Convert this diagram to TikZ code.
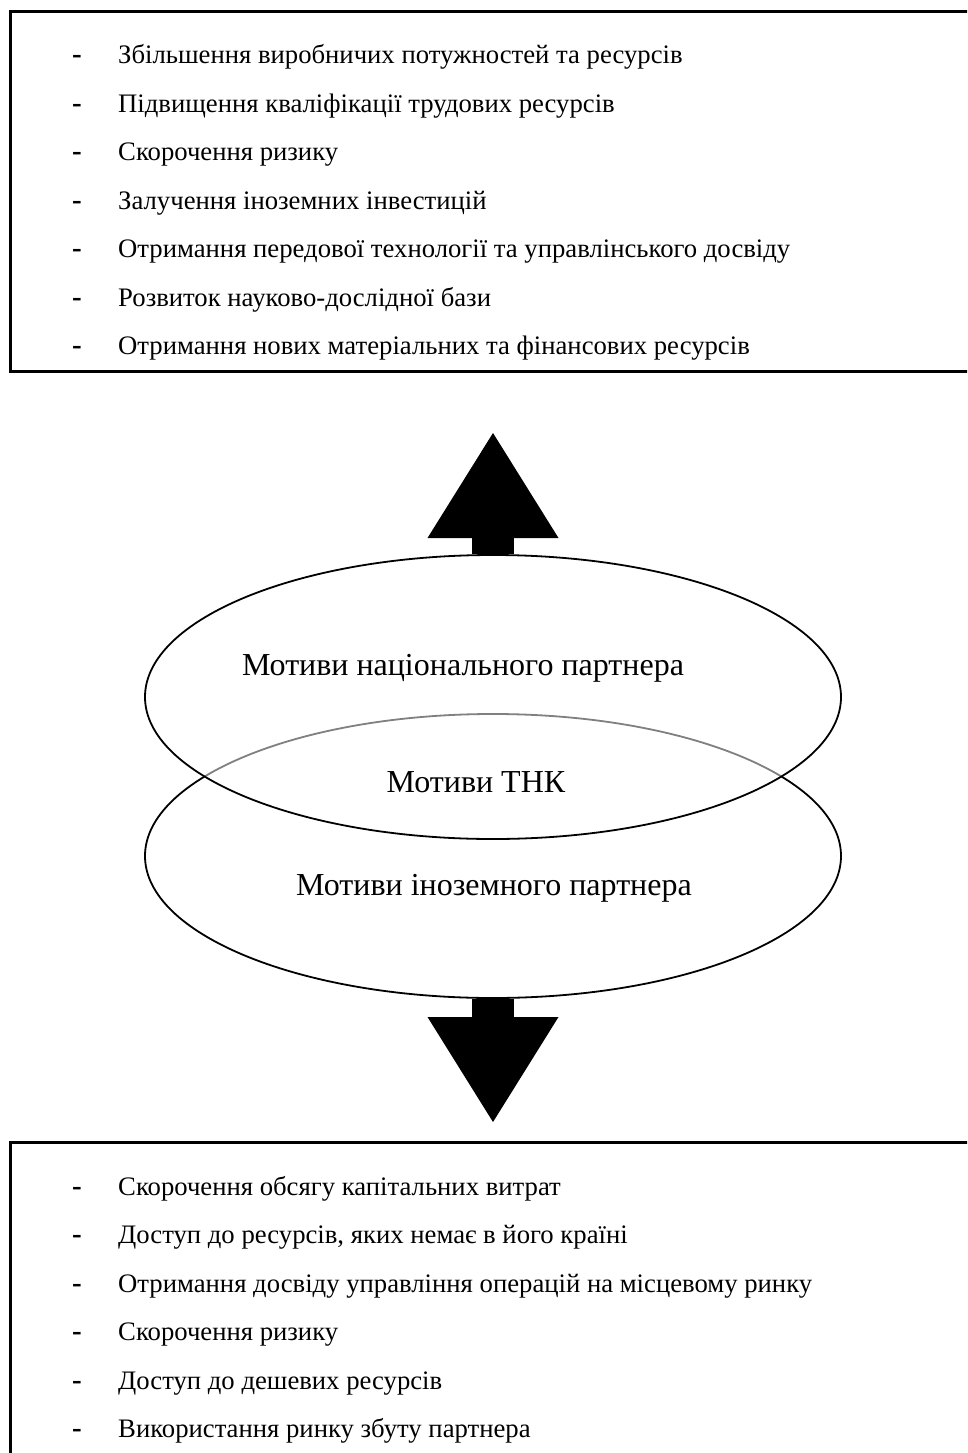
\documentclass[tikz,border=0pt]{standalone}
\usepackage{fontspec}
\setmainfont{Liberation Serif}
\usetikzlibrary{arrows.meta,shapes.geometric}
\tikzset{
  item/.style={anchor=west,inner sep=0pt,text height=1.4ex,text depth=.3ex,font=\fontsize{26.7}{30}\selectfont},
  dashmark/.style={inner sep=0pt,yshift=1.5pt,font=\bfseries\fontsize{29}{30}\selectfont},
  motive/.style={inner sep=0pt,font=\fontsize{32}{36}\selectfont},
  motivering/.style={ellipse,draw,line width=1.8pt,minimum width=696pt,minimum height=284pt,inner sep=0pt},
  listbox/.style={draw,line width=3pt},
  bigarrow/.style={line width=42pt,-{Triangle[length=105pt,width=131pt,line width=0pt]}},
}

\begin{document}
\begin{tikzpicture}[x=1pt,y=-1pt]
  \clip (0,0) rectangle (967,1453);
  % upper list: motives of the national partner
  \draw[listbox] (10,12) rectangle (1000,371);
  \node[dashmark] (d1) at (77,61) {-}; \node[item] (t1) at (118,61) {Збільшення виробничих потужностей та ресурсів};
  \node[dashmark] (d2) at (77,110) {-}; \node[item] (t2) at (118,110) {Підвищення кваліфікації трудових ресурсів};
  \node[dashmark] (d3) at (77,158) {-}; \node[item] (t3) at (118,158) {Скорочення ризику};
  \node[dashmark] (d4) at (77,207) {-}; \node[item] (t4) at (118,207) {Залучення іноземних інвестицій};
  \node[dashmark] (d5) at (77,255) {-}; \node[item] (t5) at (118,255) {Отримання передової технології та управлінського досвіду};
  \node[dashmark] (d6) at (77,304) {-}; \node[item] (t6) at (118,304) {Розвиток науково-дослідної бази};
  \node[dashmark] (d7) at (77,352) {-}; \node[item] (t7) at (118,352) {Отримання нових матеріальних та фінансових ресурсів};

  % two overlapping ellipses
  \node[motivering] (frn) at (493,856) {};
  \node[motivering,fill=white,fill opacity=.5] (nat) at (493,697) {};
  \node[motive] (natlbl) at (463,668) {Мотиви національного партнера};
  \node[motive] (tnc) at (476,782) {Мотиви ТНК};
  \node[motive] (frnlbl) at (494,888) {Мотиви іноземного партнера};

  % block arrows
  \coordinate (uptip) at (493,433);
  \coordinate (downtip) at (493,1122);
  \draw[bigarrow] (nat.north) -- (uptip);
  \draw[bigarrow] (frn.south) -- (downtip);

  % lower list: motives of the foreign partner
  \draw[listbox] (10,1142) rectangle (1000,1500);
  \node[dashmark] (e1) at (77,1193) {-}; \node[item] (b1) at (118,1193) {Скорочення обсягу капітальних витрат};
  \node[dashmark] (e2) at (77,1241) {-}; \node[item] (b2) at (118,1241) {Доступ до ресурсів, яких немає в його країні};
  \node[dashmark] (e3) at (77,1290) {-}; \node[item] (b3) at (118,1290) {Отримання досвіду управління операцій на місцевому ринку};
  \node[dashmark] (e4) at (77,1338) {-}; \node[item] (b4) at (118,1338) {Скорочення ризику};
  \node[dashmark] (e5) at (77,1387) {-}; \node[item] (b5) at (118,1387) {Доступ до дешевих ресурсів};
  \node[dashmark] (e6) at (77,1435) {-}; \node[item] (b6) at (118,1435) {Використання ринку збуту партнера};
\end{tikzpicture}
\end{document}
